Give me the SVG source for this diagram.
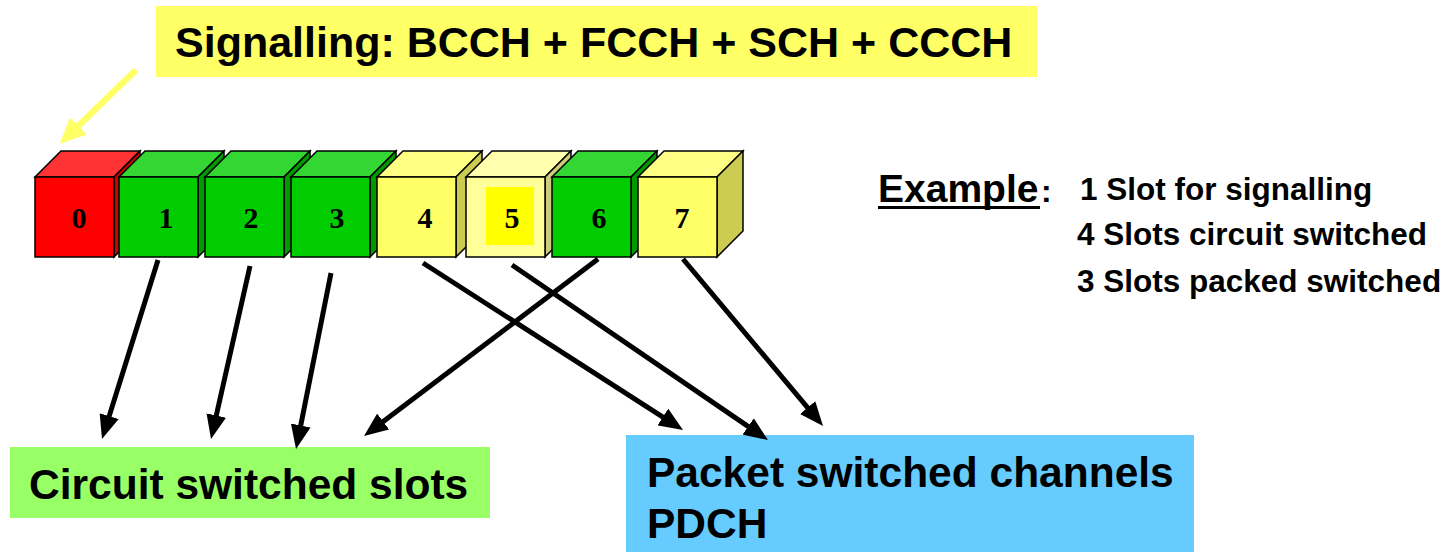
<svg xmlns="http://www.w3.org/2000/svg" width="1449" height="552" viewBox="0 0 1449 552">
  <style>
    .face { stroke: #000; stroke-width: 1.5; stroke-linejoin: miter; }
    .red .front { fill: #FF0000; } .red .top { fill: #FF3333; } .red .side { fill: #CC0000; }
    .grn .front { fill: #00CC00; } .grn .top { fill: #33D633; } .grn .side { fill: #009900; }
    .yel .front { fill: #FFFF66; } .yel .top { fill: #FFFF85; } .yel .side { fill: #CCCC52; }
    .pale .front { fill: #FFFF99; } .pale .top { fill: #FFFFAD; } .pale .side { fill: #CCCC7A; }
    .num { font-family: "Liberation Serif", "Times New Roman", serif; font-weight: bold; font-size: 30px; text-anchor: middle; fill: #000; }
    .lbl { font-family: "Liberation Sans", Arial, sans-serif; font-weight: bold; fill: #000; }
    .conn { stroke: #000; stroke-width: 5; fill: none; marker-end: url(#head); }
  </style>
  <defs>
    <marker id="head" markerUnits="userSpaceOnUse" viewBox="0 0 24 20" markerWidth="24" markerHeight="20" refX="14" refY="10" orient="auto">
      <path d="M0,0 L24,10 L0,20 Z" fill="#000"/>
    </marker>
    <marker id="yhead" markerUnits="userSpaceOnUse" viewBox="0 0 26 24" markerWidth="26" markerHeight="24" refX="14" refY="12" orient="auto">
      <path d="M0,0 L26,12 L0,24 Z" fill="#FFFF66"/>
    </marker>
  </defs>

  <rect width="1449" height="552" fill="#fff"/>

  <!-- signalling banner -->
  <g id="signalling">
    <rect x="156" y="6" width="881" height="71" fill="#FFFF66"/>
    <text class="lbl" x="175" y="57" font-size="43">Signalling: BCCH + FCCH + SCH + CCCH</text>
  </g>
  <line x1="136" y1="70" x2="68.4" y2="135.5" stroke="#FFFF66" stroke-width="6.5" marker-end="url(#yhead)"/>

  <!-- eight time slots, each a cube: front 79x80, depth 26 -->
  <g id="slot0" class="red" transform="translate(35 0)">
    <polygon class="face top" points="0,177 26,151 105,151 79,177"/>
    <polygon class="face side" points="79,177 105,151 105,231 79,257"/>
    <rect class="face front" x="0" y="177" width="79" height="80"/>
    <text class="num" x="44" y="228">0</text>
  </g>
  <g id="slot1" class="grn" transform="translate(119 0)">
    <polygon class="face top" points="0,177 26,151 105,151 79,177"/>
    <polygon class="face side" points="79,177 105,151 105,231 79,257"/>
    <rect class="face front" x="0" y="177" width="79" height="80"/>
    <text class="num" x="47" y="228">1</text>
  </g>
  <g id="slot2" class="grn" transform="translate(205 0)">
    <polygon class="face top" points="0,177 26,151 105,151 79,177"/>
    <polygon class="face side" points="79,177 105,151 105,231 79,257"/>
    <rect class="face front" x="0" y="177" width="79" height="80"/>
    <text class="num" x="46" y="228">2</text>
  </g>
  <g id="slot3" class="grn" transform="translate(291 0)">
    <polygon class="face top" points="0,177 26,151 105,151 79,177"/>
    <polygon class="face side" points="79,177 105,151 105,231 79,257"/>
    <rect class="face front" x="0" y="177" width="79" height="80"/>
    <text class="num" x="46" y="228">3</text>
  </g>
  <g id="slot4" class="yel" transform="translate(377 0)">
    <polygon class="face top" points="0,177 26,151 105,151 79,177"/>
    <polygon class="face side" points="79,177 105,151 105,231 79,257"/>
    <rect class="face front" x="0" y="177" width="79" height="80"/>
    <text class="num" x="48" y="228">4</text>
  </g>
  <g id="slot5" class="pale" transform="translate(466 0)">
    <polygon class="face top" points="0,177 26,151 105,151 79,177"/>
    <polygon class="face side" points="79,177 105,151 105,231 79,257"/>
    <rect class="face front" x="0" y="177" width="79" height="80"/>
    <rect x="20" y="187" width="48" height="58" fill="#FFFF00"/>
    <text class="num" x="46" y="228">5</text>
  </g>
  <g id="slot6" class="grn" transform="translate(552 0)">
    <polygon class="face top" points="0,177 26,151 105,151 79,177"/>
    <polygon class="face side" points="79,177 105,151 105,231 79,257"/>
    <rect class="face front" x="0" y="177" width="79" height="80"/>
    <text class="num" x="47" y="228">6</text>
  </g>
  <g id="slot7" class="yel" transform="translate(638 0)">
    <polygon class="face top" points="0,177 26,151 105,151 79,177"/>
    <polygon class="face side" points="79,177 105,151 105,231 79,257"/>
    <rect class="face front" x="0" y="177" width="79" height="80"/>
    <text class="num" x="44" y="228">7</text>
  </g>

  <!-- legend -->
  <g id="example">
    <text class="lbl" x="878" y="202" font-size="39">Example</text>
    <rect x="878" y="206" width="162" height="3" fill="#000"/>
    <text class="lbl" x="1041" y="202" font-size="32">:</text>
    <text class="lbl" x="1080" y="200" font-size="31.5">1 Slot for signalling</text>
    <text class="lbl" x="1077" y="245" font-size="31.5">4 Slots circuit switched</text>
    <text class="lbl" x="1077" y="292" font-size="31.5">3 Slots packed switched</text>
  </g>

  <!-- targets -->
  <g id="circuit">
    <rect x="10" y="447" width="480" height="71" fill="#99FF66"/>
    <text class="lbl" x="29" y="499" font-size="42.5">Circuit switched slots</text>
  </g>
  <g id="packet">
    <rect x="626" y="435" width="568" height="117" fill="#66CCFF"/>
    <text class="lbl" x="647" y="487" font-size="42.5">Packet switched channels</text>
    <text class="lbl" x="647" y="538" font-size="42.5">PDCH</text>
  </g>

  <!-- slot assignments -->
  <g id="connectors">
    <line class="conn" x1="158" y1="260" x2="105" y2="429.5"/>
    <line class="conn" x1="250" y1="266" x2="213.2" y2="429.2"/>
    <line class="conn" x1="331" y1="273" x2="298" y2="439.2"/>
    <line class="conn" x1="598" y1="259" x2="372" y2="430"/>
    <line class="conn" x1="423" y1="263" x2="674.6" y2="424.6"/>
    <line class="conn" x1="512" y1="265" x2="759.7" y2="434.4"/>
    <line class="conn" x1="683" y1="259" x2="816.6" y2="418.3"/>
  </g>
</svg>
